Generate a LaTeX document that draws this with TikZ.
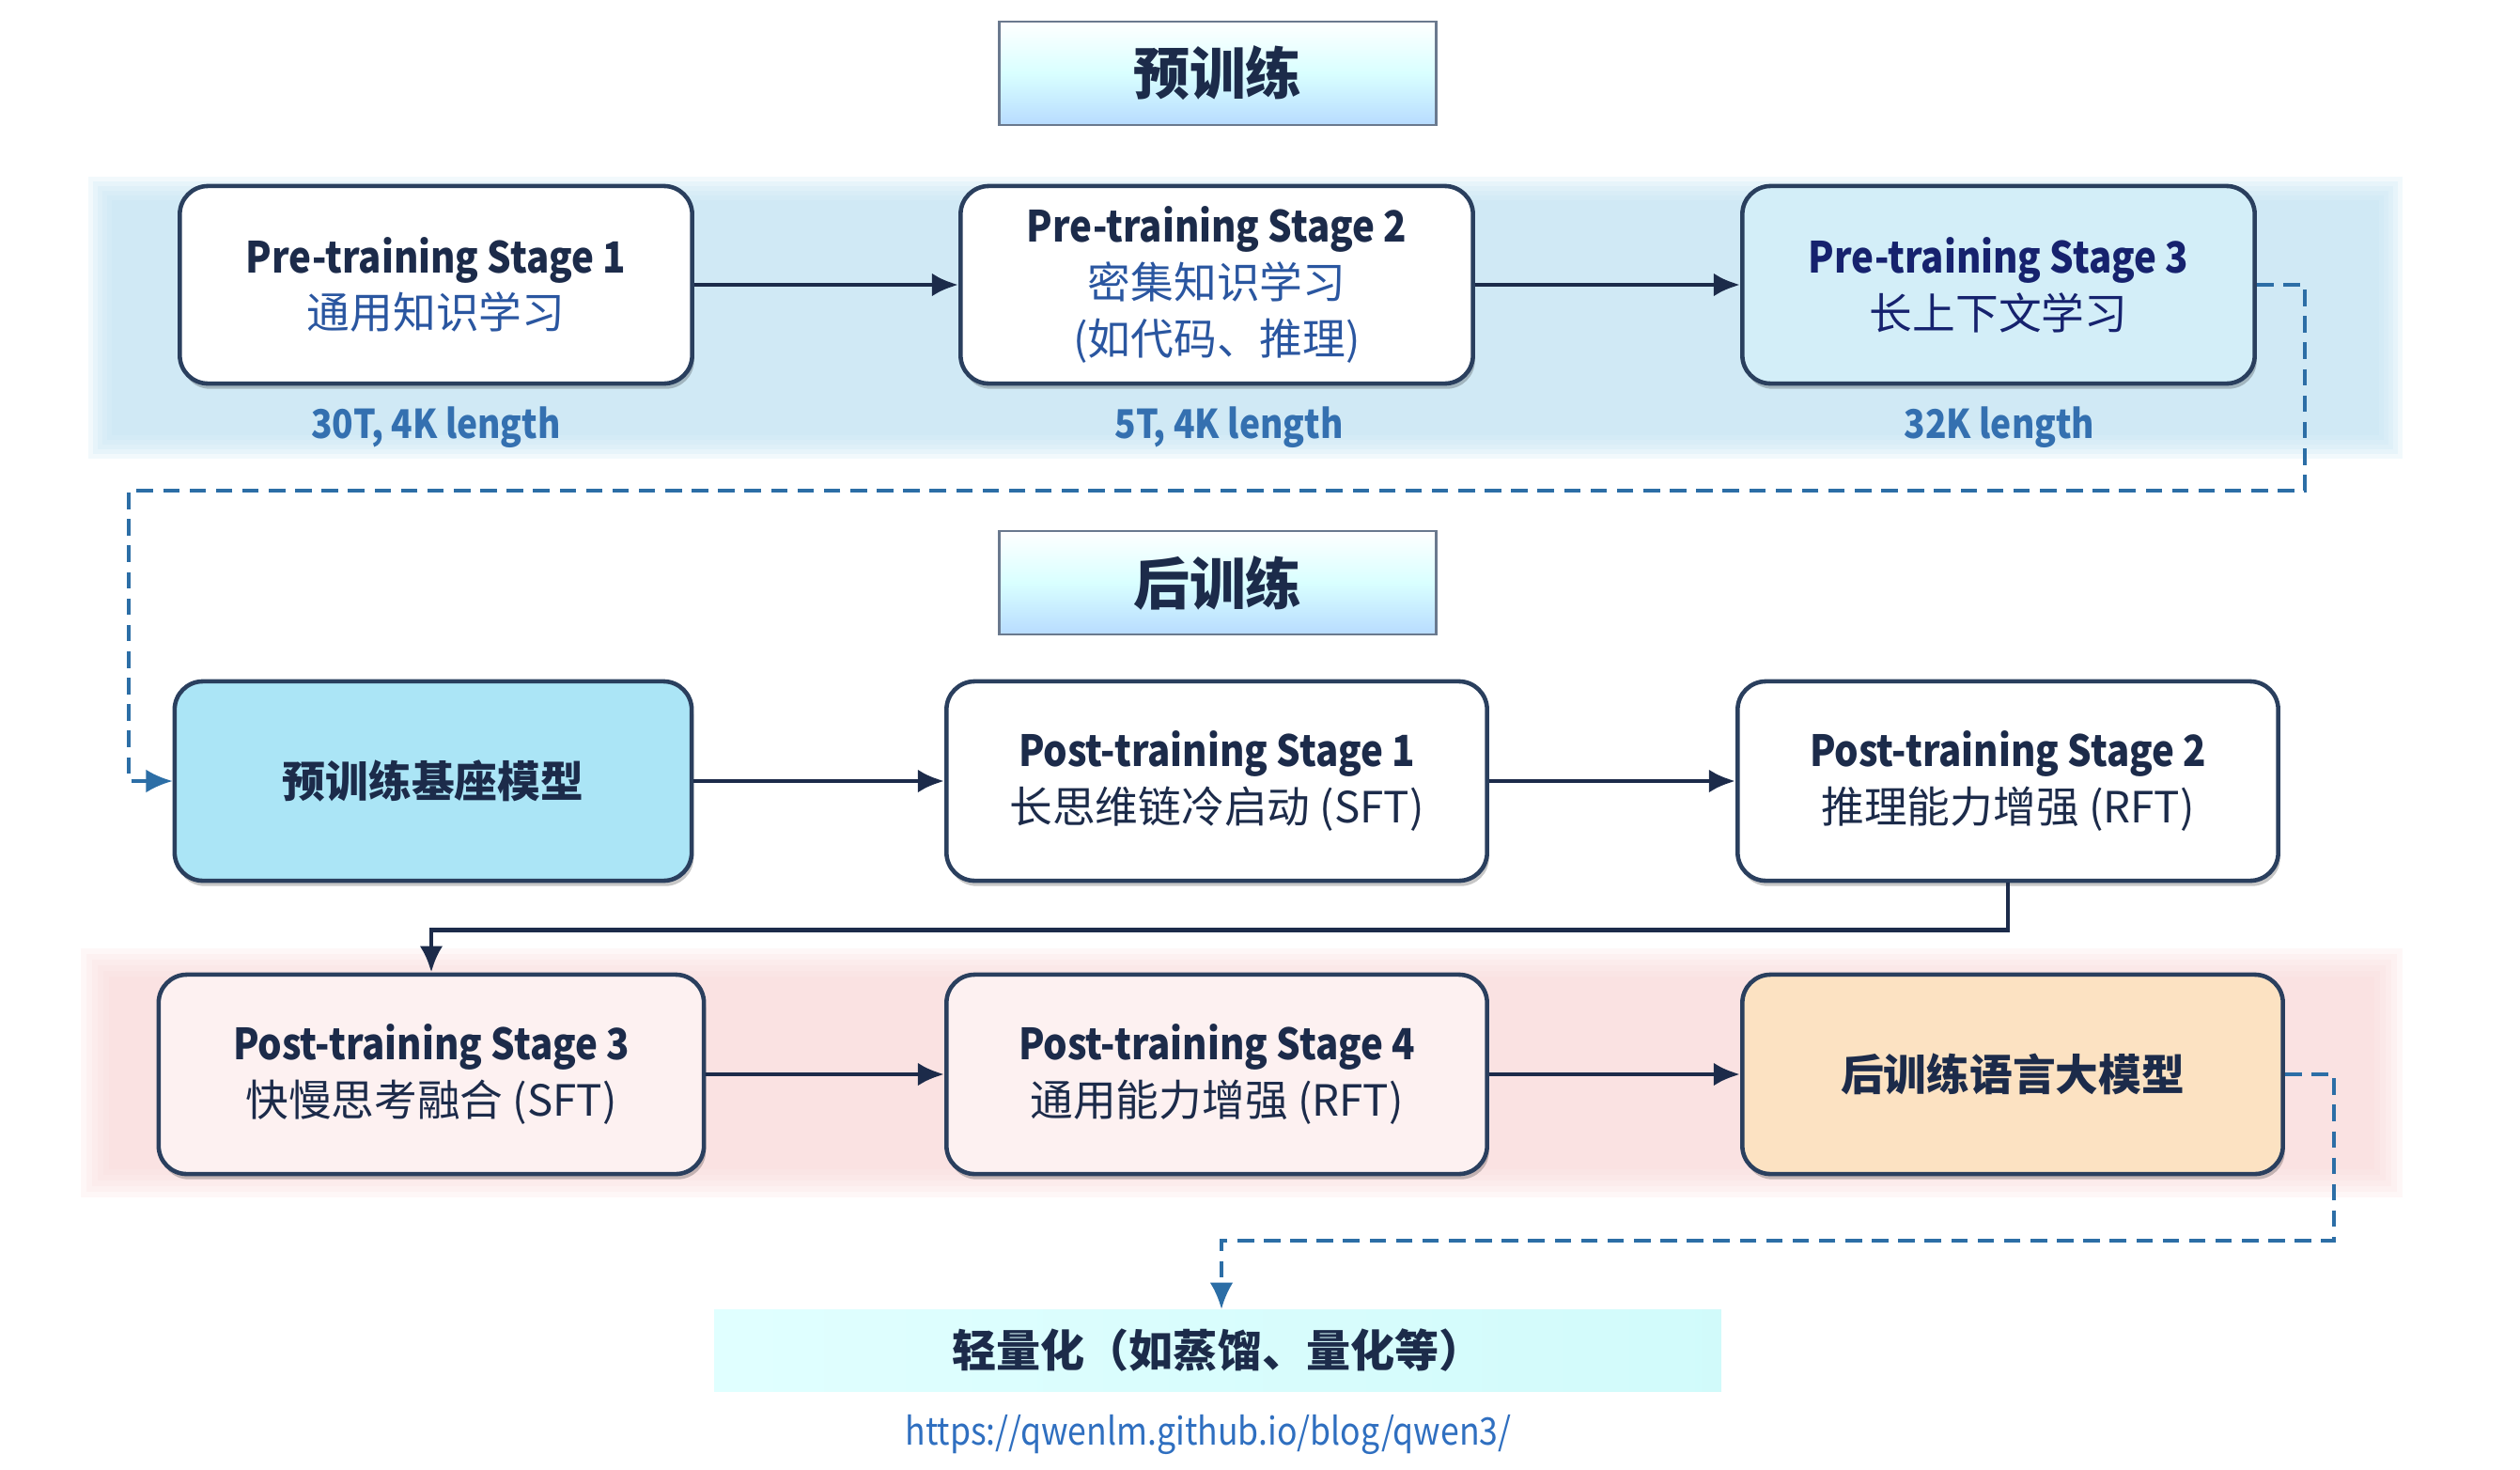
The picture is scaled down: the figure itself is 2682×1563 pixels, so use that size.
\documentclass[tikz,border=0pt]{standalone}
\usepackage{fontspec}
\setmainfont{Noto Sans CJK SC}
\newfontfamily\lat[FakeStretch=0.88]{Noto Sans CJK SC}
\usetikzlibrary{arrows.meta,shadows,calc}
\definecolor{navy}{HTML}{1C2B4A}
\definecolor{boxline}{HTML}{2A3F5E}
\definecolor{cblue}{HTML}{2A56A0}
\definecolor{lblue}{HTML}{3470B0}
\definecolor{dashc}{HTML}{2C6EA6}
\definecolor{bandblue}{HTML}{C4E6F4}
\definecolor{bandpink}{HTML}{FADADA}
\definecolor{ptthree}{HTML}{D3EEF8}
\definecolor{basefill}{HTML}{ABE5F6}
\definecolor{llmfill}{HTML}{FCE2C2}
\definecolor{pinkbox}{HTML}{FDF1F1}
\definecolor{urlc}{HTML}{2F6FC0}
\tikzset{
  stagebox/.style={draw=boxline, line width=1.3pt, rounded corners=0.3cm, fill=white,
    minimum width=5.45cm, minimum height=2.1cm, align=center,
    font=\fontsize{13}{17}\selectfont, text=navy,
    drop shadow={shadow xshift=0.6pt, shadow yshift=-1.6pt, opacity=0.22, fill=black}},
  postbox/.style={stagebox, minimum width=5.75cm, minimum height=2.12cm},
  titlebox/.style={draw=boxline!70, line width=0.8pt, minimum width=4.64cm, minimum height=1.1cm,
    top color=white, bottom color=cyan!50!blue!28, middle color=white!85!cyan,
    font=\fontsize{17}{20}\selectfont\bfseries, text=navy},
  lenlabel/.style={font=\lat\fontsize{12}{14}\selectfont\bfseries, text=lblue},
  flow/.style={draw=navy, line width=1.4pt, -{Latex[length=8pt,width=7pt]}},
  dflow/.style={draw=dashc, line width=1pt, dash pattern=on 5pt off 3pt, -{Latex[length=8pt,width=7pt]}},
}
\newcommand{\hd}[1]{{\lat\bfseries #1}}
\begin{document}
\begin{tikzpicture}[x=0.01cm,y=-0.01cm]
\useasboundingbox (0,0) rectangle (2682,1563);
\fill[white] (0,0) rectangle (2682,1563);
% soft bands
\foreach \i in {0,...,5}{
  \fill[bandblue, opacity=0.22] ({94+\i*5},{188+\i*5}) rectangle ({2557-\i*5},{488-\i*5});
  \fill[bandpink, opacity=0.2] ({86+\i*6},{1009+\i*6}) rectangle ({2557-\i*6},{1274-\i*6});
}
% titles
\node[titlebox] (t1) at (1296,78) {预训练};
\node[titlebox] (t2) at (1296,620) {后训练};
% pre-training row
\node[stagebox] (pt1) at (464,303) {\hd{Pre-training Stage 1}\\{\color{cblue}通用知识学习}};
\node[stagebox] (pt2) at (1295,303) {\hd{Pre-training Stage 2}\\{\color{cblue}密集知识学习}\\{\color{cblue}(如代码、推理)}};
\node[stagebox, fill=ptthree, text=navy!80!blue] (pt3) at (2127,303) {\hd{Pre-training Stage 3}\\长上下文学习};
\node[lenlabel] (l1) at (464,455) {30T, 4K length};
\node[lenlabel] (l2) at (1308,455) {5T, 4K length};
\node[lenlabel] (l3) at (2128,455) {32K length};
% post-training row 1
\node[stagebox, minimum width=5.5cm, minimum height=2.12cm, fill=basefill, font=\fontsize{13}{17}\selectfont\bfseries] (base) at (461,831) {预训练基座模型};
\node[postbox] (po1) at (1295,831) {\hd{Post-training Stage 1}\\长思维链冷启动 (SFT)};
\node[postbox] (po2) at (2137,831) {\hd{Post-training Stage 2}\\推理能力增强 (RFT)};
% post-training row 2
\node[postbox, minimum width=5.8cm, fill=pinkbox] (po3) at (459,1143) {\hd{Post-training Stage 3}\\快慢思考融合 (SFT)};
\node[postbox, fill=pinkbox] (po4) at (1295,1143) {\hd{Post-training Stage 4}\\通用能力增强 (RFT)};
\node[postbox, fill=llmfill, font=\fontsize{13}{17}\selectfont\bfseries] (llm) at (2142,1143) {后训练语言大模型};
% light-weight box
\node[minimum width=10.71cm, minimum height=0.87cm, left color=cyan!12, right color=teal!20!cyan!18,
  font=\fontsize{13.4}{15}\selectfont\bfseries, text=navy] (light) at (1296,1437) {轻量化（如蒸馏、量化等）};
\node[font=\lat\fontsize{11.5}{14}\selectfont, text=urlc] (url) at (1286,1526) {https://qwenlm.github.io/blog/qwen3/};
% solid arrows
\draw[flow] (pt1.east) -- (pt2.west);
\draw[flow] (pt2.east) -- (pt3.west);
\draw[flow] (base.east) -- (po1.west);
\draw[flow] (po1.east) -- (po2.west);
\draw[flow, rounded corners=0pt] (po2.south) -- ++(0,50) -| (po3.north);
\draw[flow] (po3.east) -- (po4.west);
\draw[flow] (po4.east) -- (llm.west);
% dashed connectors
\coordinate (dA) at (2453,522);
\coordinate (dB) at (137,522);
\draw[dflow] (pt3.east) -- (pt3.east -| dA) -- (dA) -- (dB) -- (dB |- base.west) -- (base.west);
\coordinate (dC) at (2484,1320);
\coordinate (dD) at (1300,1320);
\draw[dflow] (llm.east) -- (llm.east -| dC) -- (dC) -- (dD) -- (dD |- light.north);
\end{tikzpicture}
\end{document}
